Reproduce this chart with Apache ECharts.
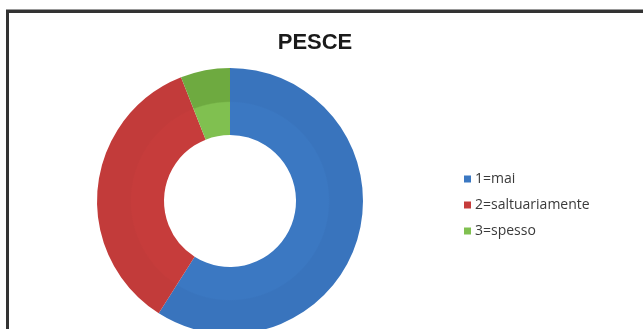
<!DOCTYPE html>
<html>
<head>
<meta charset="utf-8">
<script src="https://cdn.jsdelivr.net/npm/echarts@6/dist/echarts.min.js"></script>
<style>
html,body{margin:0;padding:0;background:#fff;overflow:hidden;}
#frame{position:absolute;left:6px;top:10px;width:700px;height:400px;border-top:3px solid #333;border-left:3px solid #333;box-shadow:0 -1px 0 #999;}
#chart{position:absolute;left:0;top:0;width:643px;height:329px;}
</style>
</head>
<body>
<div id="frame"></div>
<div id="chart"></div>
<script>
var titleText = 'PESCE';
var categories = ['1=mai', '2=saltuariamente', '3=spesso'];
var values = [59, 35, 6];
var colors = ['#3b78c2', '#c63c3b', '#80c050'];

var chart = echarts.init(document.getElementById('chart'), null, {renderer: 'canvas'});
var cx = 230, cy = 201, rOut = 133, rIn = 66;
function grad(c, dark) {
  return {
    type: 'radial', x: cx, y: cy, r: rOut, global: true,
    colorStops: [
      {offset: 0, color: c},
      {offset: 0.74, color: c},
      {offset: 0.75, color: dark},
      {offset: 1, color: dark}
    ]
  };
}
var darks = ['#3974bd', '#c23b3a', '#6eaa40'];
var data = categories.map(function (n, i) {
  return {name: n, value: values[i], itemStyle: {color: grad(colors[i], darks[i])}};
});
chart.setOption({
  animation: false,
  backgroundColor: 'transparent',
  color: colors,
  title: {
    text: titleText,
    left: 310, top: 27, textAlign: 'center',
    textStyle: {fontFamily: 'Liberation Sans, Arial', fontWeight: 'bold', fontSize: 22, color: '#1a1a1a'}
  },
  legend: {
    orient: 'vertical',
    left: 459, top: 167,
    icon: 'rect',
    itemWidth: 7, itemHeight: 7,
    itemGap: 12,
    selectedMode: false,
    data: categories.map(function (n, i) { return {name: n, itemStyle: {color: colors[i]}}; }),
    textStyle: {fontFamily: 'Open Sans', fontSize: 14, color: '#3a3a3a', padding: [0, 0, 0, -1]}
  },
  series: [{
    type: 'pie',
    center: [cx, cy],
    radius: [rIn, rOut],
    startAngle: 90,
    clockwise: true,
    label: {show: false},
    labelLine: {show: false},
    emphasis: {disabled: true},
    itemStyle: {borderWidth: 0},
    data: data
  }]
});
</script>
</body>
</html>
